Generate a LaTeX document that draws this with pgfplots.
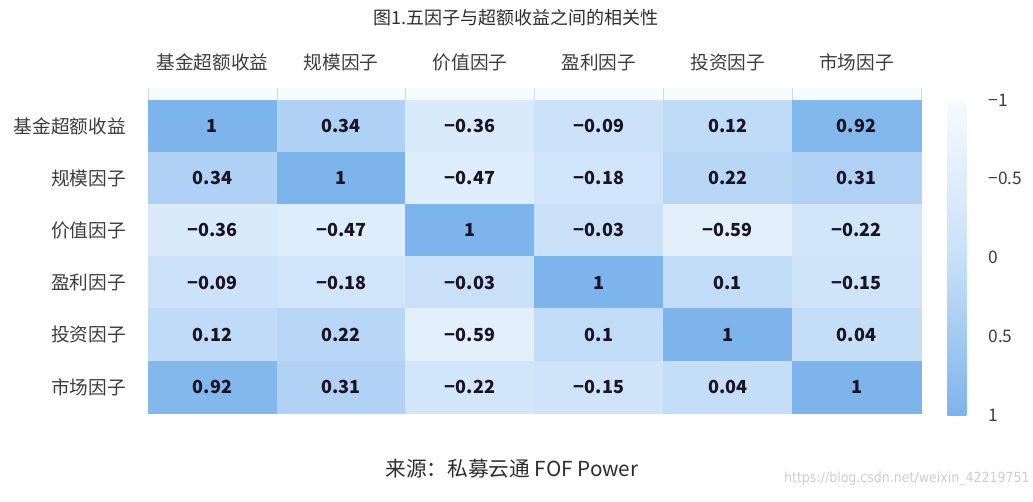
\documentclass[border=0pt]{standalone}
\usepackage{pgfplots}
\usepackage{pgfplotstable}
\pgfplotsset{compat=1.18}
\usepackage{fontspec}
\setmainfont{Noto Sans CJK SC}
\newfontfamily\wmfont{DejaVu Sans Condensed}
\definecolor{labgray}{RGB}{60,60,60}
\definecolor{titlegray}{RGB}{45,45,45}
\definecolor{numcol}{RGB}{25,20,35}
\definecolor{stripfill}{RGB}{246,251,255}
\definecolor{stripline}{RGB}{205,218,232}
\definecolor{wmgray}{RGB}{205,205,205}
\begin{document}
\begin{tikzpicture}
\useasboundingbox (0,0) rectangle (774.75pt,375.75pt);
\pgfplotstableread{
x y c lab
0 0 1 1
1 0 0.34 0.34
2 0 -0.36 −0.36
3 0 -0.09 −0.09
4 0 0.12 0.12
5 0 0.92 0.92
0 1 0.34 0.34
1 1 1 1
2 1 -0.47 −0.47
3 1 -0.18 −0.18
4 1 0.22 0.22
5 1 0.31 0.31
0 2 -0.36 −0.36
1 2 -0.47 −0.47
2 2 1 1
3 2 -0.03 −0.03
4 2 -0.59 −0.59
5 2 -0.22 −0.22
0 3 -0.09 −0.09
1 3 -0.18 −0.18
2 3 -0.03 −0.03
3 3 1 1
4 3 0.1 0.1
5 3 -0.15 −0.15
0 4 0.12 0.12
1 4 0.22 0.22
2 4 -0.59 −0.59
3 4 0.1 0.1
4 4 1 1
5 4 0.04 0.04
0 5 0.92 0.92
1 5 0.31 0.31
2 5 -0.22 −0.22
3 5 -0.15 −0.15
4 5 0.04 0.04
5 5 1 1
}\corr
\begin{axis}[
  at={(111pt,66pt)}, anchor=south west,
  scale only axis, width=579.75pt, height=234.75pt,
  xmin=-0.5, xmax=5.5, ymin=-0.5, ymax=5.5, y dir=reverse,
  enlargelimits=false, clip=false,
  axis line style={draw=none}, major tick length=0pt,
  xtick={0,...,5}, ytick={0,...,5},
  xticklabels={基金超额收益,规模因子,价值因子,盈利因子,投资因子,市场因子},
  yticklabels={基金超额收益,规模因子,价值因子,盈利因子,投资因子,市场因子},
  xticklabel pos=upper,
  xticklabel style={font=\fontsize{14}{16}\selectfont, text=labgray, yshift=18pt},
  yticklabel style={font=\fontsize{14}{16}\selectfont, text=labgray, xshift=-13pt},
  colormap={corr}{rgb255(0)=(246,251,255) rgb255(1)=(200,224,248) rgb255(2)=(125,180,236)},
  point meta min=-1, point meta max=1,
  colorbar,
  colorbar style={
    at={(parent axis.north east)}, anchor=north west, xshift=11.25pt,
    width=14.25pt, height=236.25pt,
    y dir=reverse,
    ytick={-1,-0.5,0,0.5,1}, yticklabels={−1,−0.5,0,0.5,1},
    axis line style={draw=none}, major tick length=0pt,
    yticklabel style={font=\fontsize{13}{15}\selectfont, text=labgray, xshift=13pt},
  },
]
\addplot[matrix plot*, mesh/cols=6, point meta=explicit] table[x=x, y=y, meta=c] {\corr};
\addplot[draw=none, mark=none, point meta=explicit symbolic, nodes near coords,
  every node near coord/.append style={anchor=center, font=\bfseries\fontsize{13.5}{15}\selectfont, text=numcol}]
  table[x=x, y=y, meta=lab] {\corr};
\fill[stripfill] (axis cs:-0.5,-0.73) rectangle (axis cs:5.5,-0.5);
\draw[stripline] (axis cs:-0.5,-0.73) -- (axis cs:-0.5,-0.5)
  (axis cs:0.5,-0.73) -- (axis cs:0.5,-0.5)
  (axis cs:1.5,-0.73) -- (axis cs:1.5,-0.5)
  (axis cs:2.5,-0.73) -- (axis cs:2.5,-0.5)
  (axis cs:3.5,-0.73) -- (axis cs:3.5,-0.5)
  (axis cs:4.5,-0.73) -- (axis cs:4.5,-0.5)
  (axis cs:5.5,-0.73) -- (axis cs:5.5,-0.5);
\end{axis}
\node[text=titlegray, font=\fontsize{13.5}{16}\selectfont] at (387pt,362.25pt) {图1.五因子与超额收益之间的相关性};
\node[text=titlegray, font=\fontsize{15.5}{18}\selectfont] at (384pt,24pt) {来源：私募云通 FOF Power};
\node[anchor=east, text=wmgray, font=\wmfont\fontsize{10.5}{12}\selectfont, inner sep=0pt] at (772.5pt,17pt) {https://blog.csdn.net/weixin\_42219751};
\end{tikzpicture}
\end{document}
